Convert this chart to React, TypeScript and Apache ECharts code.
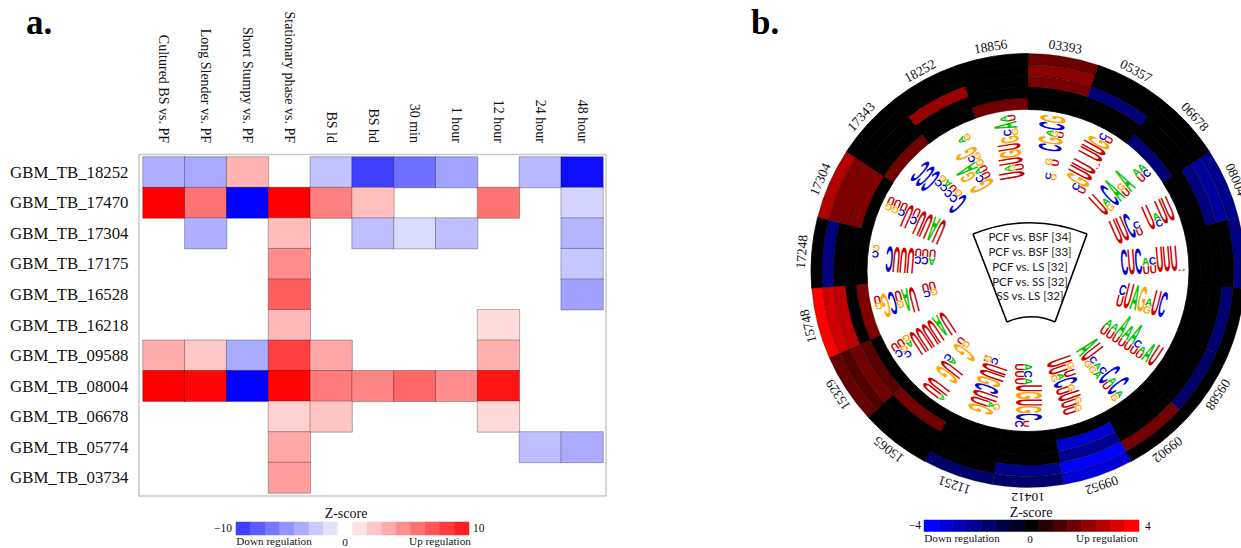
import React, { useEffect, useRef } from "react";
import * as echarts from "echarts";

const SERIF = '"Liberation Serif", serif';

// ---------- panel a ----------
const rowLabels = ["GBM_TB_18252","GBM_TB_17470","GBM_TB_17304","GBM_TB_17175","GBM_TB_16528","GBM_TB_16218","GBM_TB_09588","GBM_TB_08004","GBM_TB_06678","GBM_TB_05774","GBM_TB_03734"];
const colLabels = ["Cultured BS vs. PF","Long Slender vs. PF","Short Stumpy vs. PF","Stationary phase vs. PF","BS ld","BS hd","30 min","1 hour","12 hour","24 hour","48 hour"];
const _ = null;
const z18252 = [-3.1,-3.4,3.0,_,-2.4,-7.5,-5.7,-3.6,_,-2.8,-9.5];
const z17470 = [10,5.5,-10,10,5.0,2.5,_,_,5.5,_,-1.7];
const z17304 = [_,-3.1,_,2.6,_,-2.5,-1.4,-2.5,_,_,-2.9];
const z17175 = [_,_,_,4.5,_,_,_,_,_,_,-2.2];
const z16528 = [_,_,_,6.3,_,_,_,_,_,_,-3.7];
const z16218 = [_,_,_,2.8,_,_,_,_,1.4,_,_];
const z09588 = [3.2,2.2,-3.3,7.5,3.5,_,_,_,3.1,_,_];
const z08004 = [10,9.8,-10,9.8,5.2,4.8,6.0,4.5,9.2,_,_];
const z06678 = [_,_,_,1.8,2.3,_,_,_,1.5,_,_];
const z05774 = [_,_,_,3.4,_,_,_,_,_,-2.5,-3.3];
const z03734 = [_,_,_,3.8,_,_,_,_,_,_,_];
const heatRows = [z18252,z17470,z17304,z17175,z16528,z16218,z09588,z08004,z06678,z05774,z03734];
const legendASteps = [-7.5,-6.4,-5.3,-4.2,-3.2,-2.1,-1.1,0,1.1,2.2,3.3,4.4,5.5,6.6,7.7,8.8];

// ---------- panel b ----------
const sectorLabels = ["03393","05357","06678","08004","","","09588","09902","09952","10412","11251","15065","15329","15748","17248","17304","17343","18252","18856"];
const ring0 = [1.7,0,0,-2.2,-2.0,0,0,0,-3.4,-1.7,-1.7,0,1.6,4.0,0,2.8,0,0,0];
const ring1 = [2.2,0,0,-2.5,0,-1.8,-1.6,1.8,-4.0,-2.2,0,0,1.3,3.3,-2.0,2.0,0,0,0];
const ring2 = [1.9,-1.9,0,-2.0,0,0,0,0,-2.3,0,0,0,1.8,3.0,0,2.0,0,2.4,0];
const ring3 = [0,0,0,0,0,0,0,0,-3.2,0,0,1.8,1.4,0,0,2.0,0,0,0];
const ring4 = [0,0,-1.9,0,0,0,0,0,0,0,0,0,0,2.0,0,0,1.8,0,1.8];
const rings = [ring0,ring1,ring2,ring3,ring4];
const legendBSteps = [-4,-3.43,-2.86,-2.29,-1.71,-1.14,-0.57,0,0.57,1.14,1.71,2.29,2.86,3.43,4];
const frameLines = ["PCF vs. BSF [34]","PCF vs. BSF [33]","PCF vs. LS [32]","PCF vs. SS [32]","SS vs. LS [32]"];

// Sequence logos: one string per position, inner to outer; letter + height (percent of full), base to top.
const logo03393 = ["G22 C22","","U28 G26","","C90","G95","U22 G22 A25","C100","G100"];
const logo05357 = ["U28 C28","G95","U100","U100","U6","U100","U100","G90","U28 C28"];
const logo06678 = ["U100","G28 A28","C100","A105","U30 G28","A105","","U30 A30","C30 A30"];
const logo08004 = ["U100","U100","C100","U28 C28","","U100","C28 A28","U100","U100"];
const logo09135 = ["C100","U100","C100","U32 A30","U32 C30","U100","U100","U100","U5"];
const logo09240 = ["U45 C40","U100","A100","G100","G30 A30","U100","C100"];
const logo09588 = ["U35 A30","U35 A30","U30 A90","U30 A60","U30 A85","U30 C30","U25 A25","A80","U90"];
const logo09902 = ["A100","U100","G25 C25","G25 A25","A30 C25","C100","U30 A30","C100","G25 A25"];
const logo09952 = ["U100","U75 G25","G25 A25 U45","C95","U50 G25","U90","U60 G25","U50 G25"];
const logo10412 = ["U35 A30","U35 C30","U35 A30","U100","G100","U100","G100","C100","C30 U25"];
const logo11251 = ["U6 G25 C25","U100","U100","G95","C95","U100","U70 A25 G25","G100"];
const logo15065 = ["U25 G25","G100","","C25 A25","U100","G100","","U100","U80 A20"];
const logo15329 = ["U100","A90","U100","U100","U100","U100","G25 A25","U30 G25 C25","U30 C30"];
const logo15748 = ["U30 G25","U30 C25","","U100","A90","U40 G30","C90","G95","U30 G25"];
const logo17248 = ["U30 A30","U30 C30","U30 C30","U100","U100","U100","C100","","G25 C25"];
const logo17304 = ["U100","A100","U100","U100","U35 C30","U95","U30 C25","U30 G25","U30 G25"];
const logo17343 = ["C90","G25 C30","U25 C30","A25 C25","G25 C25","C100","C100","C100"];
const logo18252 = ["G100","U30 C30","U25 A25 G60","G30 A90","G25 C25","G90","","G25 A25"];
const logo18856 = ["U100","U35 G15 A25","U95","G85","U90","G70","G25 C30","A90","U30 A30"];
const logos = [logo03393,logo05357,logo06678,logo08004,logo09135,logo09240,logo09588,logo09902,logo09952,logo10412,logo11251,logo15065,logo15329,logo15748,logo17248,logo17304,logo17343,logo18252,logo18856];
const letterColors: Record<string,string> = { A:"#00c400", C:"#0000d8", G:"#ffa500", U:"#cc0000" };

const SECTORS = 19;
const STEP = (2*Math.PI)/SECTORS;
const R_OUT = 217, R_IN = 161, BAND = (R_OUT-R_IN)/5;
const LOGO_R0 = 93, COL_W = 7.1, LOGO_H = 26, LABEL_R = 227;
const FS = 20, CAP = 0.716*FS, INK = 0.68*FS;

type L = { letter:string; sector:number; radial:number; v:number; h:number };
const letterItems: L[] = [];
logos.forEach((cols,s)=>{
  cols.forEach((col,i)=>{
    let base = 0;
    col.split(" ").filter(Boolean).forEach(tok=>{
      const h = (parseInt(tok.slice(1),10)/100)*LOGO_H;
      letterItems.push({letter:tok[0],sector:s,radial:LOGO_R0+(i+0.5)*COL_W,v:base+h/2,h});
      base += h;
    });
  });
});

export default function App(){
  const ref = useRef<HTMLDivElement>(null);
  useEffect(()=>{
    const chart = echarts.init(ref.current!,undefined,{renderer:"svg"});
    const heatData:any[] = [];
    heatRows.forEach((row,y)=>row.forEach((v,x)=>{ if(v!==null) heatData.push([x,y,v]); }));
    const ringData:any[] = [];
    rings.forEach((vals,ri)=>vals.forEach((v,s)=>{
      ringData.push([R_OUT-(ri+1)*BAND,s,v,R_OUT-ri*BAND]);
    }));
    // black cells first, so that their seam-closing stroke lies under the coloured cells
    ringData.sort((p,q)=>Number(p[2]!==0)-Number(q[2]!==0));
    const serifText = (text:string,x:number,y:number,size:number,align="center")=>({
      type:"text",x,y,silent:true,z:5,
      style:{text,fill:"#111",font:`${size}px ${SERIF}`,align,verticalAlign:"middle"},
    });
    const option:any = {
      animation:false,
      backgroundColor:"#fff",
      grid:[
        {left:143,top:157,width:460,height:336,show:false},
        {left:236,top:522,width:233,height:13,show:false},
        {left:924,top:520,width:215,height:11.5,show:false},
      ],
      xAxis:[
        {type:"category",gridIndex:0,position:"top",data:colLabels,axisLine:{show:false},axisTick:{show:false},splitLine:{show:false},
          axisLabel:{rotate:90,interval:0,margin:14,color:"#111",fontFamily:SERIF,fontSize:14}},
        {type:"category",gridIndex:1,show:false,data:legendASteps.map(String)},
        {type:"category",gridIndex:2,show:false,data:legendBSteps.map(String)},
      ],
      yAxis:[
        {type:"category",gridIndex:0,inverse:true,data:rowLabels,offset:4,axisLine:{show:false},
          axisTick:{alignWithLabel:true,length:4,lineStyle:{color:"#222"}},splitLine:{show:false},
          axisLabel:{interval:0,margin:10.5,color:"#111",fontFamily:SERIF,fontSize:16.8}},
        {type:"category",gridIndex:1,show:false,data:["a"]},
        {type:"category",gridIndex:2,show:false,data:["b"]},
      ],
      polar:{center:[1028,270.5],radius:[0,240]},
      angleAxis:{type:"value",min:0,max:SECTORS,startAngle:90,clockwise:true,show:false},
      radiusAxis:{type:"value",min:0,max:240,show:false},
      visualMap:[
        {show:false,type:"continuous",min:-10,max:10,dimension:2,seriesIndex:[0,1],inRange:{color:["#0000ff","#ffffff","#ff0000"]}},
        {show:false,type:"continuous",min:-4,max:4,dimension:2,seriesIndex:[2,3],inRange:{color:["#0000ff","#000000","#ff0000"]}},
      ],
      series:[
        {type:"heatmap",xAxisIndex:0,yAxisIndex:0,data:heatData,silent:true,itemStyle:{borderColor:"rgba(0,0,0,0.28)",borderWidth:1}},
        {type:"heatmap",xAxisIndex:1,yAxisIndex:1,data:legendASteps.map((v,i)=>[i,0,v]),silent:true},
        {type:"custom",coordinateSystem:"polar",data:ringData,silent:true,
          renderItem:(params:any,api:any)=>{
            const cs = params.coordSys;
            const a = api.coord([api.value(0),api.value(1)]);
            const o = api.coord([api.value(3),api.value(1)]);
            const start = Math.atan2(a[1]-cs.cy,a[0]-cs.cx);
            const isZero = api.value(2)===0;
            return {type:"sector",shape:{cx:cs.cx,cy:cs.cy,
              r0:Math.hypot(a[0]-cs.cx,a[1]-cs.cy),r:Math.hypot(o[0]-cs.cx,o[1]-cs.cy),
              startAngle:start,endAngle:start+STEP,clockwise:true},
              style:{fill:api.visual("color"),stroke:isZero?"#000":"rgba(0,0,0,0.6)",lineWidth:isZero?0.8:0.5}};
          }},
        {type:"heatmap",xAxisIndex:2,yAxisIndex:2,data:legendBSteps.map((v,i)=>[i,0,v]),silent:true},
        {type:"custom",coordinateSystem:"polar",silent:true,
          data:letterItems.map(l=>[l.radial,l.sector+0.5]),
          renderItem:(params:any,api:any)=>{
            const l = letterItems[params.dataIndex];
            const cs = params.coordSys;
            const p = api.coord([api.value(0),api.value(1)]);
            const t = Math.atan2(p[0]-cs.cx,-(p[1]-cs.cy));
            const off = l.v-LOGO_H/2;
            return {type:"text",x:p[0]-Math.cos(t)*off,y:p[1]-Math.sin(t)*off,
              rotation:Math.PI/2-t,scaleX:COL_W*0.96/INK,scaleY:l.h/CAP,
              style:{text:l.letter,fill:letterColors[l.letter],font:`bold ${FS}px "Liberation Sans"`,align:"center",verticalAlign:"middle"}};
          }},
        {type:"custom",coordinateSystem:"polar",silent:true,
          data:sectorLabels.map((_s,i)=>[LABEL_R,i+0.5]),
          renderItem:(params:any,api:any)=>{
            const cs = params.coordSys;
            const p = api.coord([api.value(0),api.value(1)]);
            const t = Math.atan2(p[0]-cs.cx,-(p[1]-cs.cy));
            return {type:"text",x:p[0],y:p[1],rotation:-t,
              style:{text:sectorLabels[params.dataIndex],fill:"#111",font:`13.5px ${SERIF}`,align:"center",verticalAlign:"middle"}};
          }},
      ],
      graphic:[
        {type:"rect",z:-1,silent:true,shape:{x:139,y:154.5,width:467,height:341.5},style:{fill:"none",stroke:"#c9c9c9",lineWidth:1.5}},
        {type:"text",x:26,y:22,silent:true,style:{text:"a.",fill:"#000",font:`bold 35px ${SERIF}`,align:"left",verticalAlign:"middle"}},
        {type:"text",x:751,y:22,silent:true,style:{text:"b.",fill:"#000",font:`bold 35px ${SERIF}`,align:"left",verticalAlign:"middle"}},
        serifText("Z-score",346,513,14),
        serifText("\u221210",232,528,11.5,"right"),
        serifText("10",473,528,11.5,"left"),
        serifText("Down regulation",274,541,11.2),
        serifText("0",345,542,11.2),
        serifText("Up regulation",440,541,11.2),
        serifText("Z-score",1031,512,14),
        serifText("\u22124",921,525,11.5,"right"),
        serifText("4",1145,526,11.5,"left"),
        serifText("Down regulation",962,538,11.2),
        serifText("0",1030,539,11.2),
        serifText("Up regulation",1107,538,11.2),
        {type:"bezierCurve",silent:true,shape:{x1:973,y1:234,x2:1087,y2:234,cpx1:1010,cpy1:219,cpx2:1050,cpy2:219},style:{stroke:"#000",lineWidth:1.6,fill:"none"}},
        {type:"bezierCurve",silent:true,shape:{x1:1007,y1:322,x2:1055,y2:322,cpx1:1022,cpy1:315,cpx2:1040,cpy2:315},style:{stroke:"#000",lineWidth:1.6,fill:"none"}},
        {type:"line",silent:true,shape:{x1:973,y1:234,x2:1007,y2:322},style:{stroke:"#000",lineWidth:1.6}},
        {type:"line",silent:true,shape:{x1:1087,y1:234,x2:1055,y2:322},style:{stroke:"#000",lineWidth:1.6}},
        ...frameLines.map((t,i)=>({type:"text",x:1030,y:[236,251.5,266,281,295.5][i],silent:true,
          style:{text:t,fill:"#222",font:'11.5px Lato, "Open Sans"',align:"center",verticalAlign:"middle"}})),
      ],
    };
    chart.setOption(option);
    return ()=>chart.dispose();
  },[]);
  return <div ref={ref} style={{position:"fixed",left:0,top:0,width:1241,height:548,background:"#fff",overflow:"hidden"}}/>;
}
